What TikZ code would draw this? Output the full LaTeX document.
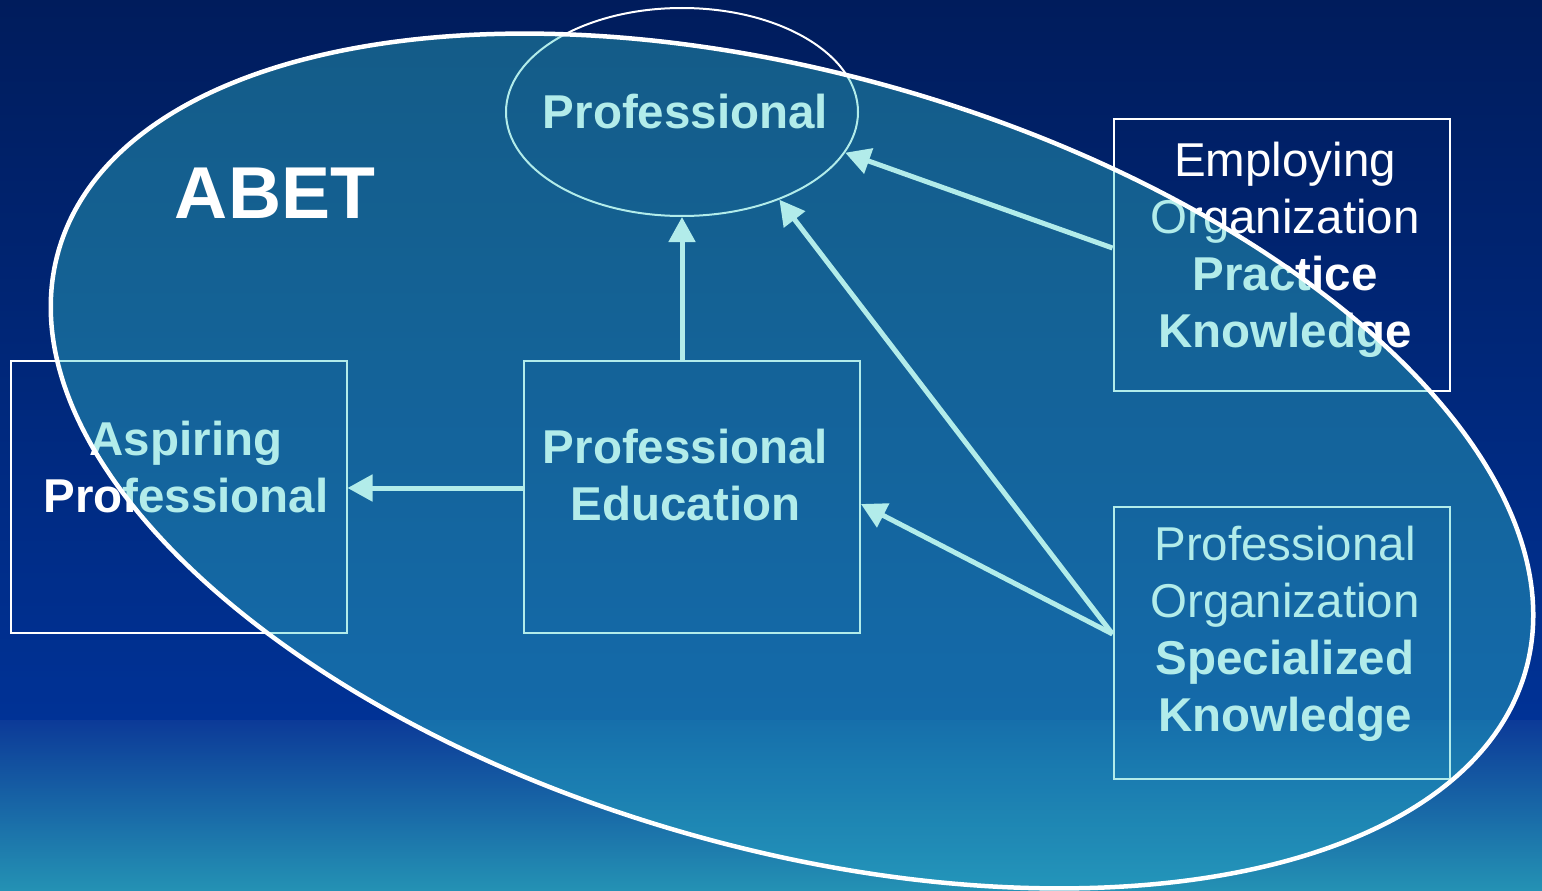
\documentclass[tikz,border=0pt]{standalone}
\usepackage{fontspec}
\setmainfont{Liberation Sans}
\usetikzlibrary{arrows.meta,positioning,shapes.geometric}

\definecolor{navytop}{RGB}{0,28,92}
\definecolor{navymid}{RGB}{0,50,150}
\definecolor{navyband}{RGB}{12,58,152}
\definecolor{navybot}{RGB}{36,146,180}
\definecolor{ovtop}{RGB}{29,99,147}
\definecolor{ovmid}{RGB}{29,115,185}
\definecolor{ovband}{RGB}{32,121,187}
\definecolor{ovbot}{RGB}{52,162,203}
\definecolor{aquatint}{RGB}{178,236,234}

\begin{document}
\begin{tikzpicture}[x=1pt, y=-1pt,
    box/.style={draw=white, line width=2pt, minimum width=336pt, minimum height=272pt, inner sep=0pt},
    ring/.style={draw=white, line width=2pt, ellipse, minimum width=352pt, minimum height=208pt, inner sep=0pt},
    txt/.style={text=white, align=center, inner sep=0pt, font=\fontsize{47.5}{57}\selectfont},
    txtb/.style={font=\fontsize{47.5}{57}\selectfont\bfseries},
    arr/.style={draw=white, line width=5pt, -{Triangle[length=25pt, width=26pt]}},
    tilt/.style={rotate around={-16:(792,461)}}]
      \useasboundingbox (0,0) rectangle (1542,891);

      % background
      \shade[top color=navytop, bottom color=navymid] (0,0) rectangle (1542,720);
      \shade[top color=navyband, bottom color=navybot] (0,720) rectangle (1542,891);

      \begin{scope}
        \clip[tilt] (792,461) ellipse [x radius=763pt, y radius=387pt];
        \shade[top color=ovtop, bottom color=ovmid] (0,0) rectangle (1542,720);
        \shade[top color=ovband, bottom color=ovbot] (0,720) rectangle (1542,891);
      \end{scope}

      \node[box] (asp) at (178.5,496.5) {};
      \node[box, right=175.5pt of asp] (edu) {};
      \node[box] (emp) at (1281.5,255) {};
      \node[box, below=113.5pt of emp] (spec) {};
      \node[ring] (prof) at (682,112) {};

      \node[txt, txtb] (proftxt) at (685.5,111.7) {Professional};
      \node[txt, txtb] (asptxt) at (186,467.5) {Aspiring\\Professional};
      \node[txt, txtb] (edutxt) at (685.5,475.5) {Professional\\Education};
      \node[txt] (emptxt) at (1285,249.5) {Employing\\Organization\\\textbf{Practice}\\\textbf{Knowledge}};
      \node[txt] (spectxt) at (1285,634) {Professional\\Organization\\\textbf{Specialized}\\\textbf{Knowledge}};

      \coordinate (eduw) at ([yshift=8.5pt]edu.west);
      \draw[arr] (edu.north -| prof.south) -- (prof.south);
      \draw[arr] (eduw) -- (eduw -| asp.east);
      \draw[arr] ([yshift=7pt]emp.west) -- (prof.-14);
      \draw[arr] ([yshift=8.5pt]spec.west) -- (prof.-42.5);
      \draw[arr] ([yshift=8.5pt]spec.west) -- ([yshift=-7.5pt]edu.east);

      % tint inside the ABET ellipse, then its outline
      \fill[aquatint, blend mode=multiply, tilt] (792,461) ellipse [x radius=763pt, y radius=387pt];
      \draw[white, line width=4.5pt, tilt] (792,461) ellipse [x radius=763pt, y radius=387pt];
      \node[txt, font=\fontsize{73.5}{80}\selectfont\bfseries] (abet) at (275,193) {ABET};
\end{tikzpicture}
\end{document}
